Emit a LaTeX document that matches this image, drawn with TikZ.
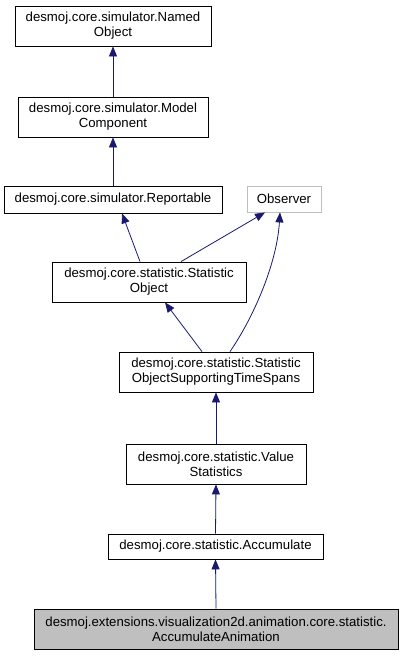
\documentclass[tikz,border=0pt]{standalone}
\usepackage{fontspec}
\setmainfont{Liberation Sans}
\usetikzlibrary{arrows.meta}
\definecolor{edgeblue}{HTML}{191970}
\definecolor{obsgray}{HTML}{BFBFBF}
\definecolor{selfill}{HTML}{BFBFBF}
\begin{document}
\begin{tikzpicture}[x=1pt,y=-1pt,
  cls/.style={draw=black,line width=0.8pt,fill=white,inner sep=0pt,font=\fontsize{13.2}{15}\selectfont,align=center},
  edge/.style={draw=edgeblue,line width=0.8pt,-{Triangle[width=8pt,length=10pt,fill=edgeblue]}}]
\useasboundingbox (0,0) rectangle (403,656);
\node[cls,minimum width=196pt,minimum height=40pt] (named) at (113,26) {desmoj.core.simulator.Named\\Object};
\node[cls,minimum width=190pt,minimum height=40pt] (model) at (113,117) {desmoj.core.simulator.Model\\Component};
\node[cls,minimum width=218pt,minimum height=27pt] (report) at (113,199.5) {desmoj.core.simulator.Reportable};
\node[cls,draw=obsgray,minimum width=74pt,minimum height=26pt] (obs) at (284,199) {Observer};
\node[cls,minimum width=194pt,minimum height=40pt] (statobj) at (149,282) {desmoj.core.statistic.Statistic\\Object};
\node[cls,minimum width=194pt,minimum height=40pt] (sosts) at (216,372) {desmoj.core.statistic.Statistic\\ObjectSupportingTimeSpans};
\node[cls,minimum width=180pt,minimum height=40pt] (value) at (216,464) {desmoj.core.statistic.Value\\Statistics};
\node[cls,minimum width=215pt,minimum height=25pt] (accum) at (215.5,546.5) {desmoj.core.statistic.Accumulate};
\node[cls,fill=selfill,minimum width=364pt,minimum height=40pt] (anim) at (216,629) {desmoj.extensions.visualization2d.animation.core.statistic.\\AccumulateAnimation};
\draw[edge] (model.north) -- (named.south);
\draw[edge] (report.north) -- (model.south);
\draw[edge] ([xshift=-9pt]statobj.north) -- ([xshift=9pt]report.south);
\draw[edge] ([xshift=32pt]statobj.north) -- ([xshift=-19pt]obs.south);
\draw[edge] ([xshift=-14pt]sosts.north) -- ([xshift=16pt]statobj.south);
\draw[edge] ([xshift=14pt]sosts.north) .. controls (255,315) and (277,262) .. ([xshift=-4pt]obs.south);
\draw[edge] (value.north) -- (sosts.south);
\draw[edge] (accum.north) -- (value.south);
\draw[edge] (anim.north) -- (accum.south);
\end{tikzpicture}
\end{document}
